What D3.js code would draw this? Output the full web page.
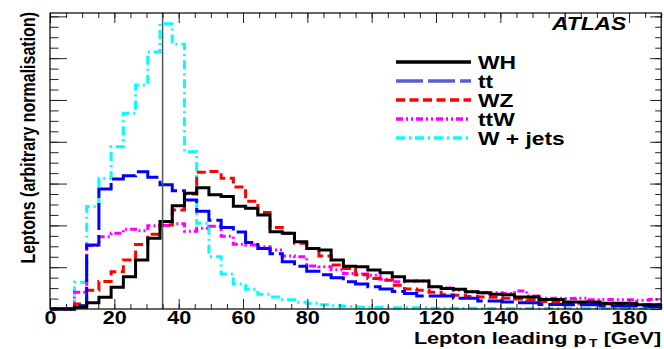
<!DOCTYPE html>
<html>

<head>
    <meta charset="utf-8">
    <title>Lepton leading pT</title>
    <style>
        body {
            margin: 0;
            background: #fff;
        }

        svg {
            display: block;
        }

        .hist {
            fill: none;
            stroke-width: 3px;
        }

        .lbl {
            font-family: "Liberation Sans", Arial, sans-serif;
            font-weight: bold;
            fill: #000;
        }
    </style>

    <script src="https://d3js.org/d3.v7.min.js"></script>

</head>

<body>
    <script>
        // bins of 3.8 GeV from 0 to 190 GeV, arbitrary normalisation
        var nBins = 50;
        var binWidth = 3.8;

        var wh = [0, 0, 0.4, 1.5, 2.8, 5.2, 7.7, 11.7, 16.9, 20.9,
            24.7, 27.7, 29.0, 27.3, 26.9, 24.6, 24.1, 22.5, 18.5, 18.1,
            16.1, 14.5, 14.1, 11.7, 10.2, 10.1, 9.3, 8.7, 7.7, 6.7,
            6.7, 5.3, 4.9, 4.7, 4.1, 3.9, 3.5, 3.4, 2.9, 2.9,
            2.3, 2.3, 1.7, 1.7, 1.7, 1.4, 1.4, 1.4, 1.0, 1.0];

        var tt = [0, 0, 0.8, 15.3, 28.7, 31.1, 31.9, 32.8, 31.5, 29.7,
            28.3, 26.1, 23.4, 21.2, 19.5, 18.4, 15.9, 14.5, 13.2, 11.3,
            10.2, 9.0, 8.2, 7.5, 6.5, 6.0, 5.3, 4.8, 4.2, 3.7,
            3.1, 3.1, 3.1, 2.6, 2.6, 1.9, 1.9, 1.7, 1.5, 1.5,
            1.1, 1.1, 1.0, 1.0, 1.0, 0.7, 0.7, 0.7, 0.7, 0.6];

        var wz = [0, 0, 1.2, 4.5, 6.6, 8.9, 11.7, 15.4, 17.9, 20.1,
            23.7, 27.5, 32.7, 32.9, 31.3, 29.2, 25.8, 23.1, 19.5, 18.1,
            15.7, 14.5, 12.7, 10.5, 9.7, 8.2, 7.3, 6.9, 5.7, 4.8,
            4.5, 4.0, 3.4, 3.3, 3.0, 2.9, 2.8, 2.6, 2.4, 2.2,
            1.8, 1.7, 1.5, 1.4, 1.4, 1.2, 1.1, 1.1, 1.0, 1.0];

        var ttw = [0, 0, 4.0, 15.2, 17.3, 18.1, 19.1, 18.7, 19.9, 20.0,
            20.4, 18.6, 19.3, 19.8, 17.4, 15.5, 15.3, 14.9, 14.1, 12.7,
            12.5, 10.3, 10.1, 9.4, 8.5, 8.4, 8.1, 7.1, 6.5, 6.7,
            6.7, 5.3, 5.0, 4.5, 4.1, 3.9, 3.9, 3.7, 4.3, 3.1,
            2.6, 2.6, 2.5, 2.6, 2.2, 2.3, 2.2, 2.2, 2.1, 2.3];

        var wjets = [0, 0, 6.4, 24.5, 31.3, 38.8, 46.8, 53.6, 61.5, 68.2,
            63.3, 37.6, 20.5, 12.5, 8.4, 6.0, 4.7, 3.5, 2.9, 2.2,
            1.6, 1.4, 1.0, 0.8, 0.6, 0.5, 0.4, 0.4, 0.3, 0.3,
            0.3, 0.2, 0.2, 0.2, 0.2, 0.1, 0.1, 0.1, 0.1, 0.1,
            0.1, 0.1, 0.1, 0.1, 0.1, 0.1, 0.1, 0.1, 0.1, 0.1];

        var seriesNames = ["WH", "tt", "WZ", "ttW", "W + jets"];
        var xTicks = [0, 20, 40, 60, 80, 100, 120, 140, 160, 180];
        var cutValue = 35;

        var w = 664;
        var h = 349;
        var pLeft = 50, pRight = 661.2, pTop = 13, pBottom = 309;
        var sx = 1.2; // the fonts look horizontally stretched

        var svg = d3.select("body").append("svg")
            .attr("width", w)
            .attr("height", h);

        var x = d3.scaleLinear().domain([0, nBins * binWidth]).range([pLeft, pRight]);
        var y = d3.scaleLinear().domain([0, 70.8]).range([pBottom, pTop]);

        var series = [
            { name: "W + jets", values: wjets, color: "#00ffff", dash: "9 4 2 4", legend: "#00ffff" },
            { name: "ttW", values: ttw, color: "#ff00ff", dash: "7 3 2 3 2 3", legend: "#ff00ff" },
            { name: "WZ", values: wz, color: "#ff0000", dash: "9 4.5", legend: "#ff0000" },
            { name: "tt", values: tt, color: "#0000ff", dash: "27 5", legend: "#5b5bd8" },
            { name: "WH", values: wh, color: "#000000", dash: null, legend: "#000000" }
        ];

        var line = d3.line()
            .x(function (d) { return x(d[0]); })
            .y(function (d) { return y(d[1]); })
            .curve(d3.curveStepAfter);

        function steps(values) {
            var pts = values.map(function (v, i) { return [i * binWidth, v]; });
            pts.push([nBins * binWidth, values[values.length - 1]]);
            return pts;
        }

        svg.selectAll("path.hist")
            .data(series)
            .enter()
            .append("path")
            .attr("class", "hist")
            .attr("d", function (d) { return line(steps(d.values)); })
            .style("stroke", function (d) { return d.color; })
            .style("stroke-dasharray", function (d) { return d.dash; });

        // cut line
        svg.append("line")
            .attr("x1", x(cutValue)).attr("x2", x(cutValue))
            .attr("y1", y(0)).attr("y2", pTop)
            .style("stroke", "#555")
            .style("stroke-width", 1.5);

        // axes (ticks pointing inwards)
        var xMinor = d3.range(0, 191, 5);
        var yMajor = d3.range(0, 71, 10);
        var yMinor = d3.range(0, 70.8, 2.5);

        function ticks(axis, pos) {
            var g = svg.append("g").attr("transform", pos).call(axis);
            g.select(".domain").remove();
            g.selectAll("line").style("stroke", "#222").style("stroke-width", 1);
            return g;
        }

        ticks(d3.axisBottom(x).tickValues(xMinor).tickSize(-5).tickFormat(""), "translate(0," + pBottom + ")");
        ticks(d3.axisTop(x).tickValues(xMinor).tickSize(-5).tickFormat(""), "translate(0," + pTop + ")");
        ticks(d3.axisTop(x).tickValues(xTicks).tickSize(-10).tickFormat(""), "translate(0," + pTop + ")");
        ticks(d3.axisLeft(y).tickValues(yMinor).tickSize(-8.5).tickFormat(""), "translate(" + pLeft + ",0)");
        ticks(d3.axisLeft(y).tickValues(yMajor).tickSize(-17).tickFormat(""), "translate(" + pLeft + ",0)");
        ticks(d3.axisRight(y).tickValues(yMinor).tickSize(-6).tickFormat(""), "translate(" + pRight + ",0)");
        ticks(d3.axisRight(y).tickValues(yMajor).tickSize(-11).tickFormat(""), "translate(" + pRight + ",0)");

        var xAxis = ticks(d3.axisBottom(x).tickValues(xTicks).tickSize(-10).tickPadding(2).tickFormat(d3.format("d")),
            "translate(0," + pBottom + ")");
        xAxis.selectAll("text")
            .attr("class", "lbl")
            .style("font-size", "18px")
            .attr("transform", "scale(" + sx + ",1)");

        // frame
        svg.append("rect")
            .attr("x", pLeft).attr("y", pTop)
            .attr("width", pRight - pLeft).attr("height", pBottom - pTop)
            .style("fill", "none")
            .style("stroke", "#000")
            .style("stroke-width", 1.2);

        // axis titles
        var xt = svg.append("text")
            .attr("class", "lbl")
            .attr("transform", "translate(" + pRight + ",343.5) scale(1.27,1)")
            .attr("text-anchor", "end")
            .style("font-size", "17px");
        xt.append("tspan").text("Lepton leading p");
        xt.append("tspan").attr("dx", 2).attr("dy", 3).style("font-size", "11px").text("T");
        xt.append("tspan").attr("dy", -3).text(" [GeV]");

        svg.append("text")
            .attr("class", "lbl")
            .attr("transform", "translate(35,12) scale(1.25,1) rotate(-90)")
            .attr("text-anchor", "end")
            .style("font-size", "16px")
            .text("Leptons (arbitrary normalisation)");

        svg.append("text")
            .attr("class", "lbl")
            .attr("transform", "translate(552,29.5) scale(" + sx + ",1)")
            .style("font-size", "19px")
            .style("font-style", "italic")
            .text("ATLAS");

        // legend
        var legendY = d3.scalePoint().domain(seriesNames).range([62, 138]);
        var byName = {};
        series.forEach(function (s) { byName[s.name] = s; });

        var leg = svg.selectAll("g.leg")
            .data(seriesNames)
            .enter()
            .append("g")
            .attr("class", "leg")
            .attr("transform", function (d) { return "translate(0," + legendY(d) + ")"; });

        leg.append("line")
            .attr("x1", 396).attr("x2", 471)
            .style("stroke", function (d) { return byName[d].legend; })
            .style("stroke-width", 3.5)
            .style("stroke-dasharray", function (d) { return byName[d].dash; });

        leg.append("text")
            .attr("class", "lbl")
            .attr("transform", "translate(478,7) scale(" + sx + ",1)")
            .style("font-size", "19px")
            .text(function (d) { return d; });
    </script>

</body>

</html>
